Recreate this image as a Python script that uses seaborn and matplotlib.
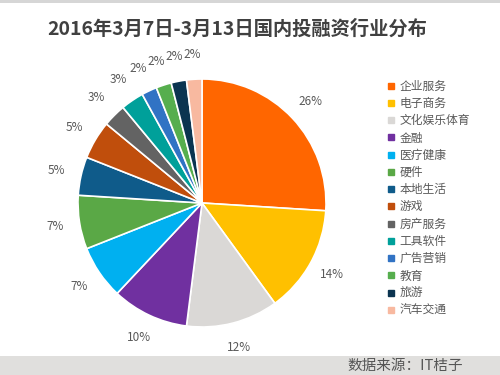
import matplotlib
matplotlib.use("Agg")
import matplotlib.pyplot as plt
from matplotlib.lines import Line2D
from matplotlib.patches import Rectangle
import seaborn as sns

categories = ["企业服务", "电子商务", "文化娱乐体育", "金融", "医疗健康", "硬件", "本地生活",
              "游戏", "房产服务", "工具软件", "广告营销", "教育", "旅游", "汽车交通"]
values = [26, 14, 12, 10, 7, 7, 5, 5, 3, 3, 2, 2, 2, 2]
colors = ["#FF6600", "#FFC000", "#DAD8D6", "#7030A0", "#00B0F0", "#5AA846", "#0F5B8A",
          "#C04E0C", "#636363", "#00A09A", "#3173C4", "#56AE4E", "#0B3450", "#F8B9A0"]
title = "2016年3月7日-3月13日国内投融资行业分布"
source = "数据来源：IT桔子"

sns.set_theme(style="white")
plt.rcParams['font.family'] = ['Noto Sans CJK SC', 'DejaVu Sans']
palette = sns.color_palette(colors)

fig = plt.figure(figsize=(5, 3.75), dpi=100)
fig.patch.set_facecolor("white")

# footer band and top line
fig.add_artist(Rectangle((0, 0), 1, 19 / 375, transform=fig.transFigure,
                         facecolor="#E0DFDD", edgecolor="none", zorder=0))
fig.add_artist(Rectangle((0, 1 - 3 / 375), 1, 3 / 375, transform=fig.transFigure,
                         facecolor="#D6D6D6", edgecolor="none", zorder=0))

cx, cy, r = 202, 203, 124
ax = fig.add_axes([(cx - r) / 500, (375 - cy - r) / 375, 2 * r / 500, 2 * r / 375])
wedges, texts = ax.pie(values, colors=palette, startangle=90, counterclock=False,
                       labels=[f"{v}%" for v in values], labeldistance=1.2,
                       wedgeprops=dict(edgecolor="white", linewidth=1.2),
                       textprops=dict(color="#595959", fontsize=8.5))
for t in texts:
    t.set_horizontalalignment("center")
    t.set_verticalalignment("center")
ax.set_xlim(-1, 1)
ax.set_ylim(-1, 1)
ax.set_axis_off()

handles = [Line2D([0], [0], marker="s", linestyle="none", markersize=4,
                  markerfacecolor=c, markeredgecolor=c) for c in colors]
leg = fig.legend(handles, categories, loc="upper left", bbox_to_anchor=(383 / 500, 1 - 75 / 375),
                 frameon=False, fontsize=8.5, handlelength=0.6, handletextpad=0.4,
                 labelspacing=0.36, borderaxespad=0)
for t in leg.get_texts():
    t.set_color("#595959")

fig.text(47 / 500, 1 - 29 / 375, title, fontsize=13.9, fontweight="bold", color="#404040",
         ha="left", va="center")
fig.text(463 / 500, 9.5 / 375, source, fontsize=10.5, color="#555555", ha="right", va="center")

fig.savefig("out.png", dpi=100)
